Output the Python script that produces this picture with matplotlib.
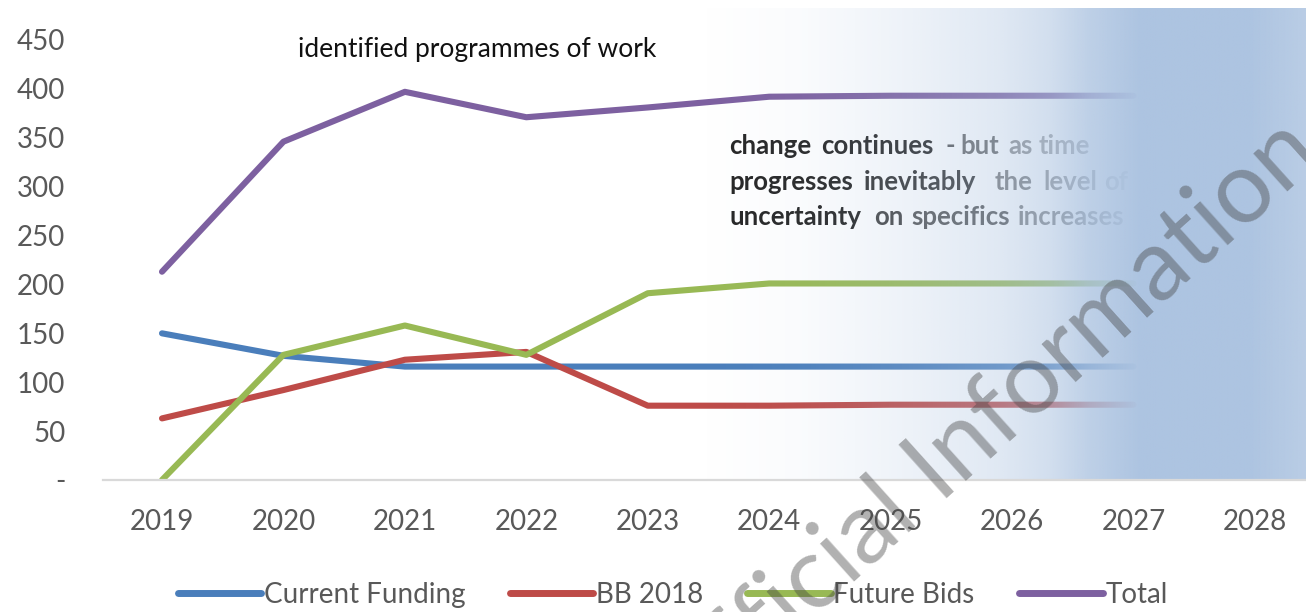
import numpy as np
import matplotlib
matplotlib.use("Agg")
import matplotlib.pyplot as plt

# ---- data ----
years = ['2019', '2020', '2021', '2022', '2023', '2024', '2025', '2026', '2027', '2028']
current_funding = [150, 127, 116, 116, 116, 116, 116, 116, 116]
bb_2018 = [63, 92, 123, 131, 76, 76, 77, 77, 77]
future_bids = [0, 128, 158, 128, 191, 201, 201, 201, 201]
total = [213, 346, 397, 371, 381, 392, 393, 393, 393]
y_ticks = [0, 50, 100, 150, 200, 250, 300, 350, 400, 450]
y_tick_labels = ['-', '50', '100', '150', '200', '250', '300', '350', '400', '450']

series = [
    ("Current Funding", current_funding, "#4a7ebb"),
    ("BB 2018", bb_2018, "#be4b48"),
    ("Future Bids", future_bids, "#98b954"),
    ("Total", total, "#7d60a0"),
]

plt.rcParams['font.family'] = ['Lato', 'DejaVu Sans']

W, H = 1306, 612
fig = plt.figure(figsize=(W / 100, H / 100), dpi=100)
left_px, right_px, bottom_px, top_px = 103, 1306, 480, 8
ax = fig.add_axes([left_px / W, 1 - bottom_px / H,
                   (right_px - left_px) / W, (bottom_px - top_px) / H])

x = np.arange(len(years))
for name, vals, col in series:
    ax.plot(x[:len(vals)], vals, color=col, lw=4.4, label=name,
            solid_capstyle='round', solid_joinstyle='round', zorder=2)

step = 121.44
x0 = -(162 - left_px) / step
x1 = 9 + (right_px - 1255) / step
ppu = (480 - 40) / 450.0
ytop = (bottom_px - top_px) / ppu
ax.set_xlim(x0, x1)
ax.set_ylim(0, ytop)


def px2x(p):
    return (p - 162) / step


def py2y(p):
    return (480 - p) / ppu


# annotations
ax.text(px2x(298), py2y(50), "identified programmes of work",
        fontsize=19, color='#111111', va='center', ha='left', zorder=3)

words = [
    ("change", 729, 146, '#262626'), ("continues", 821, 146, '#262626'),
    ("-", 945, 146, '#555555'), ("but", 960, 146, '#666666'),
    ("as", 1008, 146, '#8a8a8a'), ("time", 1039, 146, '#9a9a9a'),
    ("progresses", 729, 182, '#262626'), ("inevitably", 864, 182, '#333333'),
    ("the", 995, 182, '#777777'), ("level", 1043, 182, '#8a8a8a'), ("of", 1104, 182, '#aaaaaa'),
    ("uncertainty", 729, 217, '#262626'), ("on", 874, 217, '#444444'),
    ("specifics", 911, 217, '#555555'), ("increases", 1018, 217, '#7a7a7a'),
]
for txt, xp, yp, col in words:
    ax.text(px2x(xp), py2y(yp), txt, fontsize=18.5, color=col,
            fontweight='bold', va='center', ha='left', zorder=3)

# gradient overlay
gx = np.linspace(0, 1, 800)
px = 700 + gx * (right_px - 700)
alpha = np.interp(px, [700, 800, 900, 1000, 1050, 1090, 1140, 1250, 1306],
                  [0.0, 0.06, 0.2, 0.38, 0.55, 0.8, 1.0, 1.0, 0.85])
rgba = np.zeros((2, len(gx), 4))
rgba[..., 0] = 173 / 255
rgba[..., 1] = 196 / 255
rgba[..., 2] = 225 / 255
rgba[..., 3] = alpha[None, :]
ax.imshow(rgba, extent=[px2x(700), x1, 1.5, ytop], aspect='auto',
          origin='lower', zorder=5, interpolation='bilinear')
ax.set_xlim(x0, x1)
ax.set_ylim(0, ytop)

# axes styling
for s in ['top', 'right', 'left']:
    ax.spines[s].set_visible(False)
ax.spines['bottom'].set_color('#d9d9d9')
ax.spines['bottom'].set_linewidth(1.6)
ax.spines['bottom'].set_zorder(6)
ax.set_yticks(y_ticks)
ax.set_yticklabels(y_tick_labels)
ax.set_xticks(x)
ax.set_xticklabels(years)
ax.tick_params(axis='y', length=0, pad=27, labelsize=20, labelcolor='#595959')
ax.tick_params(axis='x', length=0, pad=21, labelsize=20, labelcolor='#595959')
ax.patch.set_alpha(0)

# legend
handles = [plt.Line2D([], [], color=c, lw=5, solid_capstyle='round') for _, _, c in series]
labels = [n for n, _, _ in series]
leg = fig.legend(handles, labels, loc='center', bbox_to_anchor=(0.515, 0.028), ncol=4,
                 frameon=False, fontsize=20, handlelength=3.0, handletextpad=0.1,
                 columnspacing=1.6, labelcolor='#595959')

# watermark
fig.text(985 / W, 1 - 425 / H, "Official Information", fontsize=72, color='#454545',
         alpha=0.42, rotation=42, ha='center', va='center', zorder=20)

fig.savefig("out.png", dpi=100)
